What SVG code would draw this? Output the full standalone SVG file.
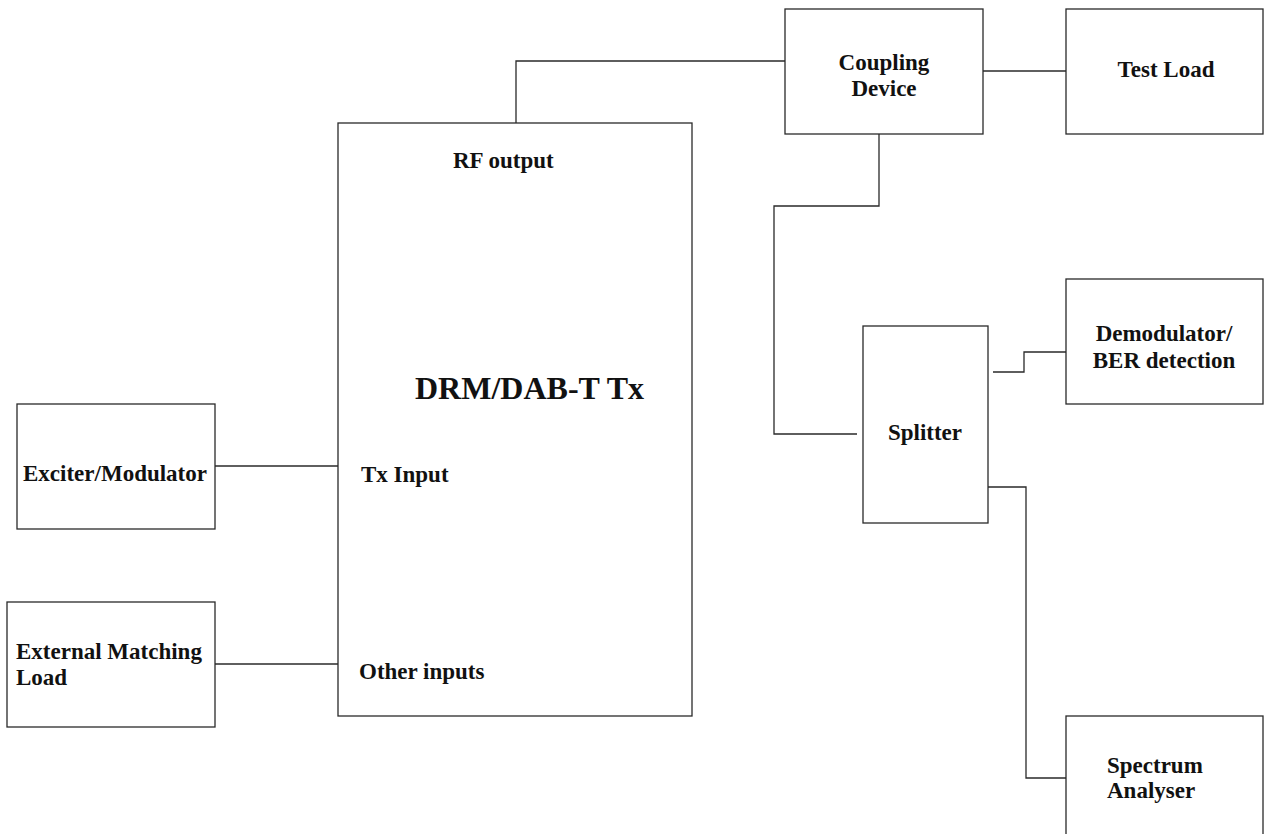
<svg xmlns="http://www.w3.org/2000/svg" width="1267" height="834" viewBox="0 0 1267 834">
<style>
.box{fill:#fff;stroke:#2a2a2a;stroke-width:1.3}
.wire{fill:none;stroke:#2a2a2a;stroke-width:1.3}
text{font-family:"Liberation Serif","Times New Roman",serif;font-weight:bold;font-size:23px;fill:#111}
.big{font-size:32px}
.c{text-anchor:middle}
</style>
<rect width="1267" height="834" fill="#fff"/>
<g id="connectors">
<polyline class="wire" points="516,123 516,61 785,61"/>
<line class="wire" x1="983" y1="71" x2="1066" y2="71"/>
<polyline class="wire" points="879,134 879,206 774,206 774,434 857,434"/>
<polyline class="wire" points="993,372 1024,372 1024,352 1066,352"/>
<polyline class="wire" points="987,487 1026,487 1026,778 1066,778"/>
<line class="wire" x1="215" y1="466" x2="338" y2="466"/>
<line class="wire" x1="215" y1="664" x2="338" y2="664"/>
</g>
<g id="tx">
<rect class="box" x="338" y="123" width="354" height="593"/>
<text x="453" y="168">RF output</text>
<text class="big" x="415" y="399">DRM/DAB-T Tx</text>
<text x="361" y="482">Tx Input</text>
<text x="359" y="679">Other inputs</text>
</g>
<g id="coupling">
<rect class="box" x="785" y="9" width="198" height="125"/>
<text class="c" x="884" y="70">Coupling</text>
<text class="c" x="884" y="96">Device</text>
</g>
<g id="testload">
<rect class="box" x="1066" y="9" width="197" height="125"/>
<text class="c" x="1166" y="77">Test Load</text>
</g>
<g id="splitter">
<rect class="box" x="863" y="326" width="125" height="197"/>
<text class="c" x="925" y="440">Splitter</text>
</g>
<g id="demodulator">
<rect class="box" x="1066" y="279" width="197" height="125"/>
<text class="c" x="1164" y="341">Demodulator/</text>
<text class="c" x="1164" y="368">BER detection</text>
</g>
<g id="spectrum">
<rect class="box" x="1066" y="716" width="197" height="130"/>
<text x="1107" y="773">Spectrum</text>
<text x="1107" y="798">Analyser</text>
</g>
<g id="exciter">
<rect class="box" x="17" y="404" width="198" height="125"/>
<text class="c" x="115" y="481">Exciter/Modulator</text>
</g>
<g id="external">
<rect class="box" x="7" y="602" width="208" height="125"/>
<text x="16" y="659">External Matching</text>
<text x="16" y="685">Load</text>
</g>
</svg>
